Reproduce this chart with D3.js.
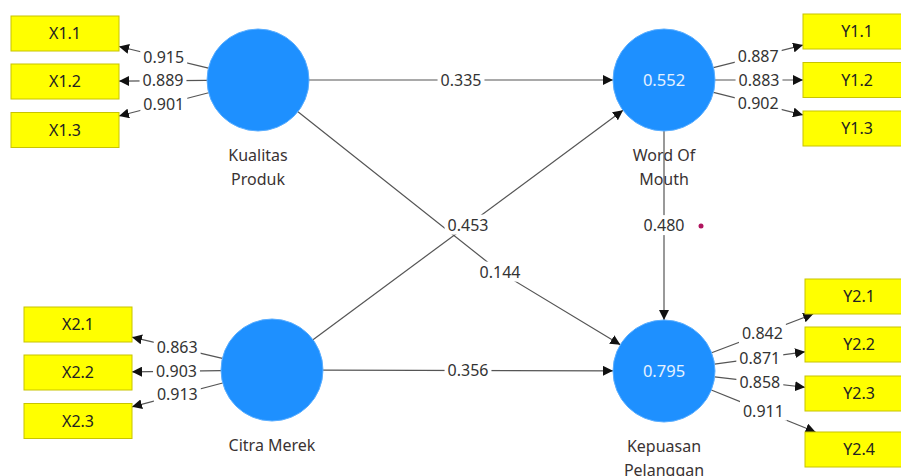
<!DOCTYPE html>
<html>
<head>
<meta charset="utf-8">
<script src="https://cdn.jsdelivr.net/npm/d3@7"></script>
<style>
  body { margin: 0; background: #fff; }
  svg { display: block; font-family: "Noto Sans", "Open Sans", sans-serif; }
</style>
</head>
<body>
<script>
// constructs and R² (only endogenous ones have a value)
const constructs = ["Kualitas Produk", "Citra Merek", "Word Of Mouth", "Kepuasan Pelanggan"];
const rSquare = [null, null, 0.552, 0.795];

// outer model
const x1Items = ["X1.1", "X1.2", "X1.3"];
const x1Loadings = [0.915, 0.889, 0.901];
const x2Items = ["X2.1", "X2.2", "X2.3"];
const x2Loadings = [0.863, 0.903, 0.913];
const y1Items = ["Y1.1", "Y1.2", "Y1.3"];
const y1Loadings = [0.887, 0.883, 0.902];
const y2Items = ["Y2.1", "Y2.2", "Y2.3", "Y2.4"];
const y2Loadings = [0.842, 0.871, 0.858, 0.911];

// inner model
const pathFrom = ["Kualitas Produk", "Kualitas Produk", "Citra Merek", "Citra Merek", "Word Of Mouth"];
const pathTo = ["Word Of Mouth", "Kepuasan Pelanggan", "Word Of Mouth", "Kepuasan Pelanggan", "Kepuasan Pelanggan"];
const pathCoef = [0.335, 0.144, 0.453, 0.356, 0.480];

// layout of the diagram canvas
const W = 901, H = 476;
const R = 51, boxW = 108, boxH = 35;
const nodePos = {
  "Kualitas Produk": [258, 80],
  "Citra Merek": [272, 370],
  "Word Of Mouth": [664, 80],
  "Kepuasan Pelanggan": [664, 371]
};
const nodeLines = {
  "Kualitas Produk": ["Kualitas", "Produk"],
  "Citra Merek": ["Citra Merek"],
  "Word Of Mouth": ["Word Of", "Mouth"],
  "Kepuasan Pelanggan": ["Kepuasan", "Pelanggan"]
};
const bends = { "Kualitas Produk>Kepuasan Pelanggan": [500, 272] };
const blocks = [
  { node: "Kualitas Produk", items: x1Items, loads: x1Loadings, left: 11, ys: [33.5, 81.5, 130] },
  { node: "Citra Merek", items: x2Items, loads: x2Loadings, left: 24, ys: [324.5, 372.5, 421] },
  { node: "Word Of Mouth", items: y1Items, loads: y1Loadings, left: 803, ys: [31.5, 80, 128.5] },
  { node: "Kepuasan Pelanggan", items: y2Items, loads: y2Loadings, left: 805, ys: [296.5, 344.5, 393.5, 449.5] }
];

const x = d3.scaleIdentity().domain([0, W]);
const y = d3.scaleIdentity().domain([0, H]);
const fmt = d3.format(".3f");
const FS = 16;

const svg = d3.select("body").append("svg")
  .attr("width", W).attr("height", H);

svg.append("defs").append("marker")
  .attr("id", "arrow")
  .attr("markerUnits", "userSpaceOnUse")
  .attr("viewBox", "0 0 10 10")
  .attr("refX", 10).attr("refY", 5)
  .attr("markerWidth", 10).attr("markerHeight", 10)
  .attr("orient", "auto")
  .append("path").attr("d", "M0,0L10,5L0,10z").attr("fill", "#111");

function circleEdge(c, t) {
  let dx = t[0] - c[0], dy = t[1] - c[1];
  let len = Math.hypot(dx, dy);
  return [c[0] + R * dx / len, c[1] + R * dy / len];
}
function boxEdge(c, s) {
  let dx = s[0] - c[0], dy = s[1] - c[1];
  let t = Math.min(dx ? (boxW / 2) / Math.abs(dx) : Infinity, dy ? (boxH / 2) / Math.abs(dy) : Infinity);
  return [c[0] + dx * t, c[1] + dy * t];
}

let line = d3.line().x(d => x(d[0])).y(d => y(d[1]));
let labels = [];

// node names below circles (lines are drawn over them)
constructs.forEach(function (n) {
  let p = nodePos[n];
  nodeLines[n].forEach(function (t, i) {
    svg.append("text")
      .attr("x", x(p[0])).attr("y", y(p[1] + R + 30 + i * 24))
      .attr("text-anchor", "middle")
      .attr("font-size", FS)
      .attr("fill", "#3a3333")
      .text(t);
  });
});

// outer model edges
blocks.forEach(function (b) {
  let c = nodePos[b.node];
  b.items.forEach(function (it, i) {
    let bc = [b.left + boxW / 2, b.ys[i]];
    let s = circleEdge(c, bc), e = boxEdge(bc, c);
    svg.append("path")
      .attr("d", line([s, e]))
      .attr("stroke", "#555").attr("stroke-width", 1.2).attr("fill", "none")
      .attr("marker-end", "url(#arrow)");
    labels.push({ x: (s[0] + e[0]) / 2, y: (s[1] + e[1]) / 2, v: b.loads[i] });
  });
});

// inner model edges
pathCoef.forEach(function (v, i) {
  let a = nodePos[pathFrom[i]], b = nodePos[pathTo[i]];
  let bend = bends[pathFrom[i] + ">" + pathTo[i]];
  let pts;
  if (bend) pts = [circleEdge(a, bend), bend, circleEdge(b, bend)];
  else pts = [circleEdge(a, b), circleEdge(b, a)];
  svg.append("path")
    .attr("d", line(pts))
    .attr("stroke", "#555").attr("stroke-width", 1.2).attr("fill", "none")
    .attr("marker-end", "url(#arrow)");
  let lp = bend ? bend : [(pts[0][0] + pts[1][0]) / 2, (pts[0][1] + pts[1][1]) / 2];
  labels.push({ x: lp[0], y: lp[1], v: v });
});

// construct circles
constructs.forEach(function (n, i) {
  let p = nodePos[n];
  svg.append("circle")
    .attr("cx", x(p[0])).attr("cy", y(p[1])).attr("r", R)
    .attr("fill", "#1e90ff").attr("stroke", "#5aaeff").attr("stroke-width", 1);
  if (rSquare[i] != null) {
    svg.append("text")
      .attr("x", x(p[0])).attr("y", y(p[1]))
      .attr("dy", "0.35em")
      .attr("text-anchor", "middle")
      .attr("font-size", 16.5)
      .attr("fill", "#e6f2ff")
      .text(fmt(rSquare[i]));
  }
});

// indicator boxes
blocks.forEach(function (b) {
  b.items.forEach(function (it, i) {
    svg.append("rect")
      .attr("x", x(b.left)).attr("y", y(b.ys[i] - boxH / 2))
      .attr("width", boxW).attr("height", boxH)
      .attr("fill", "#ffff00").attr("stroke", "#c8c400").attr("stroke-width", 1);
    svg.append("text")
      .attr("x", x(b.left + boxW / 2)).attr("y", y(b.ys[i]))
      .attr("dy", "0.35em")
      .attr("text-anchor", "middle")
      .attr("font-size", FS)
      .attr("fill", "#222")
      .text(it);
  });
});

// coefficient labels with a white backing that breaks the line
labels.forEach(function (d) {
  let g = svg.append("g");
  let t = g.append("text")
    .attr("x", x(d.x)).attr("y", y(d.y))
    .attr("dy", "0.35em")
    .attr("text-anchor", "middle")
    .attr("font-size", FS)
    .attr("fill", "#333")
    .text(fmt(d.v));
  let bb = t.node().getBBox();
  g.insert("rect", "text")
    .attr("x", bb.x - 3).attr("y", bb.y + 1)
    .attr("width", bb.width + 6).attr("height", bb.height - 2)
    .attr("fill", "#fff");
});

// small marker dot next to 0.480
svg.append("circle")
  .attr("cx", x(701)).attr("cy", y(226)).attr("r", 2.5)
  .attr("fill", "#b0145e");
</script>
</body>
</html>
